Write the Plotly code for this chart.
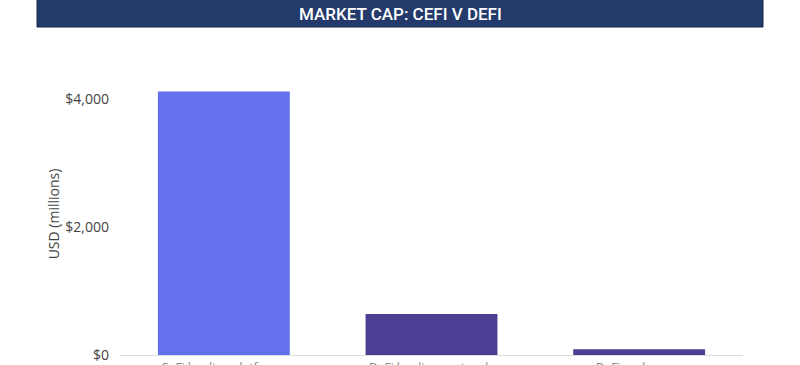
import plotly.graph_objects as go

categories = ["CeFi lending platforms", "DeFi lending protocols", "DeFi exchanges"]
values = [4110, 640, 90]
bar_colors = ["#6470EC", "#4B3F94", "#4B3F94"]
tick_vals = [0, 2000, 4000]
tick_text = ["$0", "$2,000", "$4,000"]
title_text = "MARKET CAP: CEFI V DEFI"

W, H = 800, 365
# plot area in reference pixels: x 120..743, y 73..355
PX0, PX1, PY0, PY1 = 120, 743, 73, 355
L = PX0
T = PY0
pw, ph = PX1 - PX0, PY1 - PY0
R = W - L - pw
B = H - T - ph

def px_x(x):
    return (x - PX0) / pw

def px_y(y):
    return (PY1 - y) / ph

fig = go.Figure(go.Bar(
    x=categories, y=values,
    marker=dict(color=bar_colors, line=dict(width=0)),
    width=0.635,
))

fig.add_shape(type="rect", xref="paper", yref="paper",
              x0=px_x(37), x1=px_x(763), y0=px_y(27), y1=px_y(-2),
              fillcolor="#233A6B", line=dict(color="#1B2550", width=1), layer="above")
fig.add_annotation(text=title_text, xref="paper", yref="paper",
                   x=px_x(400), y=px_y(14), showarrow=False,
                   font=dict(family="Roboto", size=17, color="white", weight=500),
                   xanchor="center", yanchor="middle")

fig.update_layout(
    width=W, height=H,
    margin=dict(l=L, r=R, t=T, b=B),
    paper_bgcolor="white", plot_bgcolor="white",
    showlegend=False,
    font=dict(family="Open Sans", color="#444444", size=13),
    xaxis=dict(showgrid=False, showline=False, zeroline=False, ticks="",
               automargin=False, ticklabelstandoff=4,
               tickfont=dict(size=12, color="#888888")),
    yaxis=dict(range=[0, 4400], tickvals=tick_vals, ticktext=tick_text,
               showgrid=False, zeroline=True, zerolinecolor="#DDDDDD", zerolinewidth=1,
               showline=False, ticks="", automargin=False, ticklabelstandoff=10,
               title=dict(text="USD (millions)", font=dict(size=14, color="#444444"), standoff=2),
               tickfont=dict(size=14, color="#444444")),
)
fig.update_xaxes(range=[-0.5, 2.5])

fig.write_html("out.html", config={"displayModeBar": False},
               post_script="document.body.style.margin='0px';")
